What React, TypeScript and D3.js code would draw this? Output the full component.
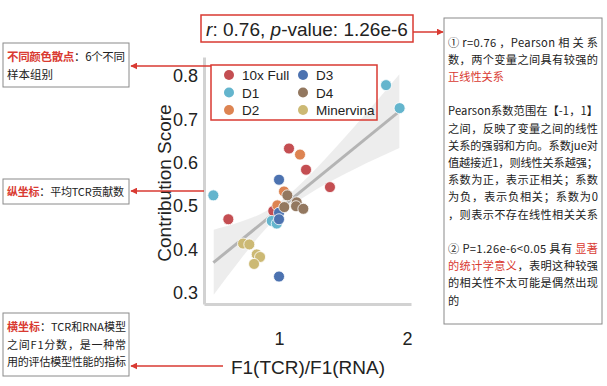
import React, { useEffect, useRef } from "react";
import * as d3 from "d3";

// groups and their colours (seaborn "deep")
const groups = ["10x Full", "D1", "D2", "D3", "D4", "Minervina"];
const colors = ["#c44e52", "#64b5cd", "#dd8452", "#4c72b0", "#937860", "#ccb974"];

// F1(TCR)/F1(RNA) and contribution score for each group
const fullX = [0.604, 1.078, 1.211, 1.398, 0.955];
const fullY = [0.470, 0.633, 0.584, 0.544, 0.489];
const d1X = [1.836, 1.942, 0.487, 0.943, 0.982];
const d1Y = [0.779, 0.726, 0.525, 0.466, 0.460];
const d2X = [1.164, 1.039, 0.987];
const d2Y = [0.619, 0.534, 0.502];
const d3X = [1.0, 1.0, 1.0, 1.0];
const d3Y = [0.561, 0.485, 0.470, 0.338];
const d4X = [1.065, 1.138, 1.133, 1.19, 1.041];
const d4Y = [0.525, 0.509, 0.500, 0.494, 0.498];
const minX = [0.719, 0.768, 0.826, 0.852, 0.805];
const minY = [0.414, 0.412, 0.389, 0.383, 0.367];

// fitted line and its confidence band
const fitX = [0.487, 1.942];
const fitY = [0.370, 0.719];
const bandX = [0.49, 0.7, 0.9, 1.05, 1.3, 1.6, 1.94];
const bandLo = [0.296, 0.378, 0.449, 0.490, 0.540, 0.587, 0.634];
const bandHi = [0.446, 0.464, 0.489, 0.520, 0.590, 0.687, 0.804];

const yTicks = [0.3, 0.4, 0.5, 0.6, 0.7, 0.8];
const xTicks = [1, 2];

const RED = "#d93a32";
const CJK = "'Noto Sans CJK SC', 'Noto Sans', sans-serif";
const LATIN = "'Liberation Sans', Arial, sans-serif";

// annotation text: each line is a list of [text, isRed]; full = stretch to box width
type Line = { parts: [string, boolean][]; full: boolean };
const L = (full: boolean, ...parts: [string, boolean][]): Line => ({ parts, full });

const rightLines: Line[] = [
  L(true, ["① r=0.76 ，Pearson 相 关 系", false]),
  L(true, ["数，两个变量之间具有较强的", false]),
  L(false, ["正线性关系", true]),
  L(false),
  L(true, ["Pearson系数范围在【-1，1】", false]),
  L(true, ["之间，反映了变量之间的线性", false]),
  L(true, ["关系的强弱和方向。系数jue对", false]),
  L(true, ["值越接近1，则线性关系越强；", false]),
  L(true, ["系数为正，表示正相关；系数", false]),
  L(true, ["为负，表示负相关；系数为0", false]),
  L(true, ["，则表示不存在线性相关关系", false]),
  L(false),
  L(true, ["② P=1.26e-6<0.05 具有 ", false], ["显著", true]),
  L(true, ["的统计学意义", true], ["，表明这种较强", false]),
  L(true, ["的相关性不太可能是偶然出现", false]),
  L(false, ["的", false]),
];
const box1Lines: Line[] = [
  L(true, ["不同颜色散点", true], ["：6个不同", false]),
  L(false, ["样本组别", false]),
];
const box2Lines: Line[] = [
  L(true, ["纵坐标", true], ["：平均TCR贡献数", false]),
];
const box3Lines: Line[] = [
  L(true, ["横坐标", true], ["：TCR和RNA模型", false]),
  L(true, ["之间F1分数，是一种常", false]),
  L(true, ["用的评估模型性能的指标", false]),
];

function App() {
  const ref = useRef<SVGSVGElement>(null);

  useEffect(() => {
    const svg = d3.select(ref.current);
    svg.selectAll("*").remove();

    const x = d3.scaleLinear().domain([0.414, 2.031]).range([204, 411]);
    const y = d3.scaleLinear().domain([0.2747, 0.8438]).range([304, 57]);

    const defs = svg.append("defs");
    defs.append("marker")
      .attr("id", "arr")
      .attr("viewBox", "0 0 10 10")
      .attr("refX", 9).attr("refY", 5)
      .attr("markerWidth", 7).attr("markerHeight", 7)
      .attr("markerUnits", "userSpaceOnUse")
      .attr("orient", "auto")
      .append("path").attr("d", "M0,0L10,5L0,10z").attr("fill", RED);

    // confidence band + fit line
    const band = bandX.map((v, i) => ({ x: v, lo: bandLo[i], hi: bandHi[i] }));
    svg.append("path")
      .datum(band)
      .attr("d", d3.area<any>().x(d => x(d.x)).y0(d => y(d.lo)).y1(d => y(d.hi)).curve(d3.curveMonotoneX))
      .attr("fill", "#e9e9e9").attr("opacity", 0.8);
    svg.append("path")
      .datum(fitX.map((v, i) => [v, fitY[i]]))
      .attr("d", d3.line<any>().x(d => x(d[0])).y(d => y(d[1])))
      .attr("stroke", "#b4b4b4").attr("stroke-width", 3).attr("fill", "none");

    // axes
    const yAxis = svg.append("g").attr("transform", "translate(204,0)")
      .call(d3.axisLeft(y).tickValues(yTicks).tickFormat(d3.format(".1f")).tickSize(0).tickPadding(6));
    const xAxis = svg.append("g").attr("transform", "translate(0,304)")
      .call(d3.axisBottom(x).tickValues(xTicks).tickFormat(d3.format("d")).tickSize(0).tickPadding(28));
    [yAxis, xAxis].forEach(g => {
      g.select(".domain").attr("stroke", "#d2d2d2").attr("stroke-width", 3);
      g.selectAll("text").attr("font-family", LATIN).attr("font-size", 18).attr("fill", "#222");
    });

    svg.append("text")
      .attr("transform", "translate(171,183) rotate(-90)")
      .attr("text-anchor", "middle")
      .attr("font-family", LATIN).attr("font-size", 19).attr("fill", "#222")
      .text("Contribution Score");
    svg.append("text")
      .attr("x", 308).attr("y", 374)
      .attr("text-anchor", "middle")
      .attr("font-family", LATIN).attr("font-size", 19).attr("fill", "#222")
      .text("F1(TCR)/F1(RNA)");

    // points
    const series = [[fullX, fullY], [d1X, d1Y], [d2X, d2Y], [d3X, d3Y], [d4X, d4Y], [minX, minY]];
    series.forEach(([xs, ys], gi) => {
      svg.append("g").selectAll("circle")
        .data(xs.map((v, i) => [v, ys[i]]))
        .enter().append("circle")
        .attr("cx", d => x(d[0])).attr("cy", d => y(d[1])).attr("r", 5.5)
        .attr("fill", colors[gi]).attr("stroke", "#fff").attr("stroke-width", 0.8);
    });

    // legend
    const leg = svg.append("g");
    leg.append("rect").attr("x", 211).attr("y", 65).attr("width", 166).attr("height", 55)
      .attr("fill", "none").attr("stroke", RED).attr("stroke-width", 1.5);
    groups.forEach((name, i) => {
      const col = i < 3 ? 0 : 1;
      const row = i % 3;
      const cx = col === 0 ? 229 : 303;
      const cy = 75 + row * 17.5;
      leg.append("circle").attr("cx", cx).attr("cy", cy).attr("r", 5).attr("fill", colors[i]);
      leg.append("text").attr("x", cx + 13).attr("y", cy + 5)
        .attr("font-family", LATIN).attr("font-size", 13.5).attr("fill", "#222").text(name);
    });

    // title box
    svg.append("rect").attr("x", 201).attr("y", 15).attr("width", 212).attr("height", 27)
      .attr("fill", "none").attr("stroke", RED).attr("stroke-width", 1.5);
    const t = svg.append("text").attr("x", 307).attr("y", 35.5).attr("text-anchor", "middle")
      .attr("font-family", LATIN).attr("font-size", 19).attr("fill", "#222");
    t.append("tspan").attr("font-style", "italic").text("r");
    t.append("tspan").text(": 0.76, ");
    t.append("tspan").attr("font-style", "italic").text("p");
    t.append("tspan").text("-value: 1.26e-6");

    // annotation boxes
    const boxes = [
      { x: 3, y: 43, w: 126, h: 44, lines: box1Lines, tx: 7, ty: 61, lh: 17.5, len: 118, fs: 11.5 },
      { x: 3, y: 179, w: 126, h: 25, lines: box2Lines, tx: 7, ty: 195.5, lh: 17, len: 117, fs: 11 },
      { x: 3, y: 313, w: 126, h: 63, lines: box3Lines, tx: 7, ty: 331, lh: 17.5, len: 119, fs: 11 },
      { x: 444, y: 18, w: 158, h: 306, lines: rightLines, tx: 448, ty: 46.5, lh: 17.2, len: 150, fs: 11.2 },
    ];
    boxes.forEach(b => {
      svg.append("rect").attr("x", b.x).attr("y", b.y).attr("width", b.w).attr("height", b.h)
        .attr("fill", "#fff").attr("stroke", "#8a8a8a").attr("stroke-width", 1);
      b.lines.forEach((line, li) => {
        if (!line.parts.length) return;
        const tt = svg.append("text").attr("x", b.tx).attr("y", b.ty + li * b.lh)
          .attr("font-family", CJK).attr("font-size", b.fs).attr("fill", "#222");
        if (line.full) tt.attr("textLength", b.len).attr("lengthAdjust", "spacing");
        line.parts.forEach(([s, red]) => {
          tt.append("tspan").attr("fill", red ? RED : "#222")
            .attr("font-weight", red && b.x < 100 ? "bold" : "normal").text(s);
        });
      });
    });

    // arrows
    const arrows = [
      [211, 66, 131, 66],
      [204, 191, 131, 191],
      [223, 366, 131, 366],
      [413, 32, 443, 32],
    ];
    arrows.forEach(([x1, y1, x2, y2]) => {
      svg.append("line").attr("x1", x1).attr("y1", y1).attr("x2", x2).attr("y2", y2)
        .attr("stroke", RED).attr("stroke-width", 1.5).attr("marker-end", "url(#arr)");
    });
  });

  return (
    <svg ref={ref} width={607} height={386}
      style={{ position: "absolute", left: 0, top: 0, background: "#fff" }} />
  );
}

export default App;
